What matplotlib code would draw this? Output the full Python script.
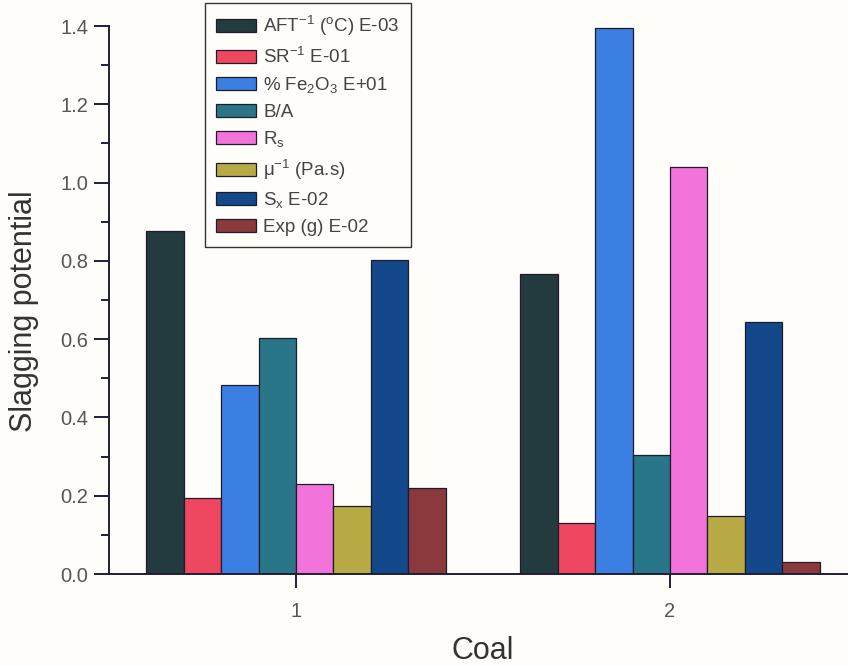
import numpy as np
import matplotlib
matplotlib.use("Agg")
import matplotlib.pyplot as plt
from matplotlib.ticker import MultipleLocator

plt.rcParams['font.family'] = ['Liberation Sans', 'DejaVu Sans']
plt.rcParams['mathtext.fontset'] = 'custom'
plt.rcParams['mathtext.rm'] = 'Liberation Sans'
plt.rcParams['mathtext.it'] = 'Liberation Sans'
plt.rcParams['mathtext.default'] = 'regular'

# Coal samples and slagging indices (scaled as noted in each label)
coals = [1, 2]
indices = [
    "AFT$^{-1}$ ($^{o}$C) E-03",
    "SR$^{-1}$ E-01",
    "% Fe$_2$O$_3$ E+01",
    "B/A",
    "R$_s$",
    "\u03bc$^{-1}$ (Pa.s)",
    "S$_x$ E-02",
    "Exp (g) E-02",
]
values = {
    "AFT": [0.876, 0.766],
    "SR": [0.195, 0.131],
    "Fe2O3": [0.482, 1.394],
    "BA": [0.603, 0.303],
    "Rs": [0.230, 1.039],
    "mu": [0.174, 0.147],
    "Sx": [0.801, 0.644],
    "Exp": [0.221, 0.030],
}
colors = ["#233a3f", "#ef4760", "#3b7fe2", "#2a7689", "#f273d9",
          "#b8aa45", "#13488a", "#8a3a3c"]

bg = "#fefdfa"
fig = plt.figure(figsize=(8.48, 6.65), dpi=100, facecolor=bg)
ax = fig.add_axes([0.1285, 0.1368, 0.882, 0.8241], facecolor=bg)

x = np.array(coals, dtype=float)
width = 0.1
n = len(values)
for i, (key, vals) in enumerate(values.items()):
    offset = (i - (n - 1) / 2) * width
    ax.bar(x + offset, vals, width, color=colors[i], edgecolor="#1c1c2a",
           linewidth=0.9, label=indices[i], zorder=2)

ax.set_xlim(0.5, 2.5)
ax.set_ylim(0, 1.4)
ax.set_xticks(coals)
ax.set_xticklabels([str(c) for c in coals])
ax.yaxis.set_major_locator(MultipleLocator(0.2))
ax.yaxis.set_minor_locator(MultipleLocator(0.1))
ax.yaxis.set_major_formatter(plt.FuncFormatter(lambda v, p: f"{v:.1f}"))

for s in ["top", "right"]:
    ax.spines[s].set_visible(False)
spine_c = "#1e1e38"
for s in ["left", "bottom"]:
    ax.spines[s].set_color(spine_c)
    ax.spines[s].set_linewidth(1.4)

ax.tick_params(axis="y", which="major", direction="out", length=11, width=1.4,
               color=spine_c, labelsize=14.5, labelcolor="#555555", pad=4)
ax.tick_params(axis="y", which="minor", direction="out", length=6, width=1.4,
               color=spine_c)
ax.tick_params(axis="x", which="major", direction="out", length=10, width=1.4,
               color=spine_c, labelsize=14.5, labelcolor="#555555", pad=10)

ax.set_ylabel("Slagging potential", fontsize=22, color="#333333")
ax.yaxis.set_label_coords(-0.094, 0.48)
ax.set_xlabel("Coal", fontsize=22, color="#333333", labelpad=11)

leg = fig.legend(loc="upper left", bbox_to_anchor=(205 / 848, 1 - 3 / 665),
                 bbox_transform=fig.transFigure, fontsize=13.5, frameon=True,
                 fancybox=False, edgecolor="#333333", framealpha=1,
                 facecolor=bg, handlelength=2.1, handleheight=0.7,
                 handletextpad=0.4, labelspacing=0.45, borderpad=0.6,
                 borderaxespad=0)
leg.get_frame().set_linewidth(1.0)
for t in leg.get_texts():
    t.set_color("#444444")

fig.savefig("out.png", dpi=100, facecolor=bg)
